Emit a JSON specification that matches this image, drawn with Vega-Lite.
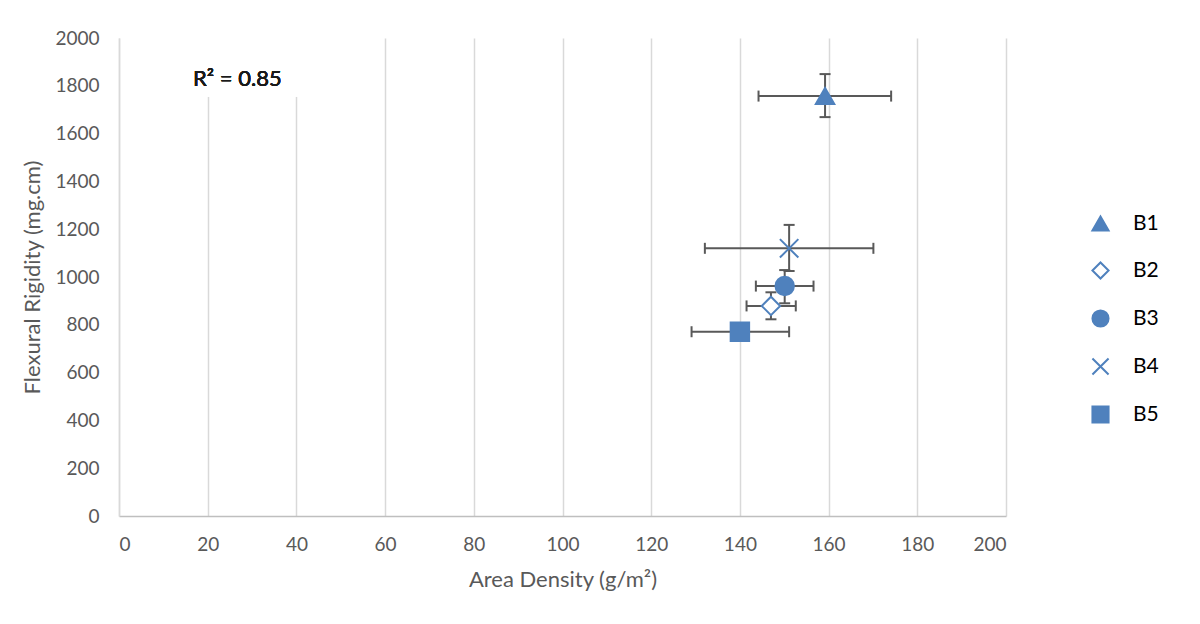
{
  "$schema": "https://vega.github.io/schema/vega-lite/v6.json",
  "width": 887,
  "height": 478,
  "autosize": "none",
  "padding": {"left": 119, "top": 38, "right": 194, "bottom": 108},
  "background": "white",
  "data": {"values": [
    {"sample": "B1", "x": 159.2, "y": 1757, "xlo": 144.2, "xhi": 174.1, "ylo": 1669, "yhi": 1849},
    {"sample": "B2", "x": 147.0, "y": 879, "xlo": 141.5, "xhi": 152.6, "ylo": 823, "yhi": 936},
    {"sample": "B3", "x": 150.1, "y": 962, "xlo": 143.6, "xhi": 156.6, "ylo": 890, "yhi": 1029},
    {"sample": "B4", "x": 151.1, "y": 1120, "xlo": 132.1, "xhi": 170.1, "ylo": 1025, "yhi": 1218},
    {"sample": "B5", "x": 140.0, "y": 771, "xlo": 129.1, "xhi": 151.1, "ylo": 760, "yhi": 782}
  ]},
  "config": {
    "view": {"stroke": null},
    "font": "Lato",
    "axisX": {"grid": true, "gridColor": "#d9d9d9", "gridWidth": 1.5, "domainColor": "#bfbfbf", "domainWidth": 1.5, "ticks": false, "labelPadding": 19, "labelFontSize": 19, "labelColor": "#595959", "titleFontSize": 22, "titleColor": "#595959", "titleFontWeight": "normal", "titlePadding": 15, "labelFont": "Lato", "titleFont": "Lato"},
    "axisY": {"grid": false, "domainColor": "#d9d9d9", "domainWidth": 1.5, "ticks": false, "labelPadding": 20, "labelFontSize": 19, "labelColor": "#595959", "titleFontSize": 22, "titleColor": "#595959", "titleFontWeight": "normal", "titlePadding": 10, "labelFont": "Lato", "titleFont": "Lato", "format": "d"},
    "legend": {"labelFont": "Lato"}
  },
  "layer": [
    {
      "mark": {"type": "rect", "color": "white"},
      "encoding": {
        "x": {"datum": 13, "type": "quantitative", "scale": {"domain": [0, 200]}, "axis": {"tickCount": 10, "title": "Area Density (g/m²)"}},
        "x2": {"datum": 43},
        "y": {"datum": 1755, "type": "quantitative", "scale": {"domain": [0, 2000]}, "axis": {"tickCount": 10, "format": "d", "title": "Flexural Rigidity (mg.cm)"}},
        "y2": {"datum": 2000}
      }
    },
    {
      "mark": {"type": "rule", "color": "#595959", "strokeWidth": 2},
      "encoding": {
        "x": {"field": "xlo", "type": "quantitative", "title": "Area Density (g/m²)"},
        "x2": {"field": "xhi"},
        "y": {"field": "y", "type": "quantitative", "title": "Flexural Rigidity (mg.cm)"}
      }
    },
    {
      "mark": {"type": "rule", "color": "#595959", "strokeWidth": 2},
      "encoding": {
        "x": {"field": "x", "type": "quantitative", "title": "Area Density (g/m²)"},
        "y": {"field": "ylo", "type": "quantitative", "title": "Flexural Rigidity (mg.cm)"},
        "y2": {"field": "yhi"}
      }
    },
    {
      "mark": {"type": "tick", "orient": "vertical", "color": "#595959", "thickness": 2, "size": 11, "opacity": 1},
      "encoding": {
        "x": {"field": "xlo", "type": "quantitative", "title": "Area Density (g/m²)"},
        "y": {"field": "y", "type": "quantitative", "title": "Flexural Rigidity (mg.cm)"}
      }
    },
    {
      "mark": {"type": "tick", "orient": "vertical", "color": "#595959", "thickness": 2, "size": 11, "opacity": 1},
      "encoding": {
        "x": {"field": "xhi", "type": "quantitative", "title": "Area Density (g/m²)"},
        "y": {"field": "y", "type": "quantitative", "title": "Flexural Rigidity (mg.cm)"}
      }
    },
    {
      "mark": {"type": "tick", "orient": "horizontal", "color": "#595959", "thickness": 2, "size": 11, "opacity": 1},
      "encoding": {
        "x": {"field": "x", "type": "quantitative", "title": "Area Density (g/m²)"},
        "y": {"field": "ylo", "type": "quantitative", "title": "Flexural Rigidity (mg.cm)"}
      }
    },
    {
      "mark": {"type": "tick", "orient": "horizontal", "color": "#595959", "thickness": 2, "size": 11, "opacity": 1},
      "encoding": {
        "x": {"field": "x", "type": "quantitative", "title": "Area Density (g/m²)"},
        "y": {"field": "yhi", "type": "quantitative", "title": "Flexural Rigidity (mg.cm)"}
      }
    },
    {
      "mark": {"type": "point", "filled": true, "size": 340, "strokeWidth": 2, "opacity": 1},
      "encoding": {
        "x": {"field": "x", "type": "quantitative", "title": "Area Density (g/m²)"},
        "y": {"field": "y", "type": "quantitative", "title": "Flexural Rigidity (mg.cm)"},
        "shape": {"field": "sample", "type": "nominal", "scale": {"domain": ["B1", "B2", "B3", "B4", "B5"], "range": ["triangle-up", "diamond", "circle", "M-1,-1L1,1M-1,1L1,-1", "square"]}, "legend": {"title": null, "orient": "none", "legendX": 971, "legendY": 175, "labelFontSize": 21, "labelColor": "black", "symbolSize": 260, "rowPadding": 23, "labelOffset": 22, "symbolStrokeWidth": 2}},
        "fill": {"field": "sample", "type": "nominal", "scale": {"domain": ["B1", "B2", "B3", "B4", "B5"], "range": ["#4f81bd", "white", "#4f81bd", "transparent", "#4f81bd"]}, "legend": {"title": null, "orient": "none", "legendX": 971, "legendY": 175, "labelFontSize": 21, "labelColor": "black", "symbolSize": 260, "rowPadding": 23, "labelOffset": 22, "symbolStrokeWidth": 2}},
        "stroke": {"field": "sample", "type": "nominal", "scale": {"domain": ["B1", "B2", "B3", "B4", "B5"], "range": ["#4f81bd", "#4f81bd", "#4f81bd", "#4f81bd", "#4f81bd"]}, "legend": {"title": null, "orient": "none", "legendX": 971, "legendY": 175, "labelFontSize": 21, "labelColor": "black", "symbolSize": 260, "rowPadding": 23, "labelOffset": 22, "symbolStrokeWidth": 2}}
      }
    },
    {
      "mark": {"type": "text", "align": "left", "baseline": "middle", "fontSize": 22, "font": "Lato", "fontWeight": "normal", "color": "#1a1a1a"},
      "encoding": {
        "x": {"datum": 16.7, "type": "quantitative"},
        "y": {"datum": 1830, "type": "quantitative"},
        "text": {"value": "R² = 0.85"}
      }
    }
  ]
}
